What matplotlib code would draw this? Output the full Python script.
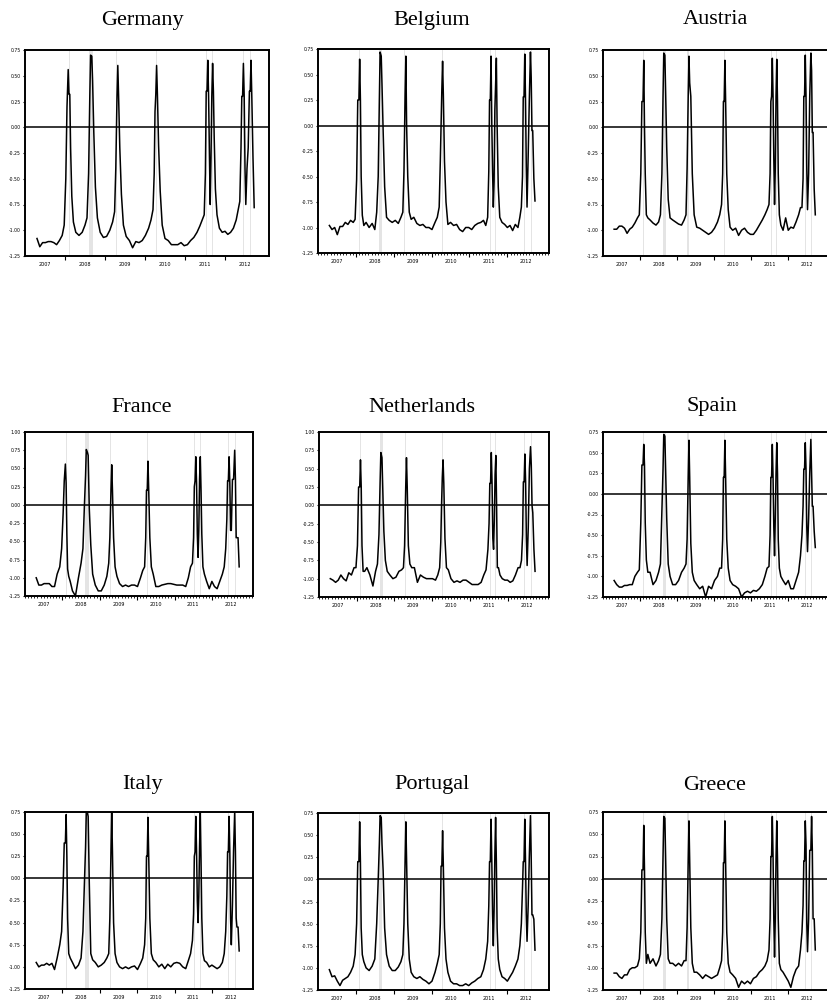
import matplotlib
matplotlib.use("Agg")
import matplotlib.pyplot as plt
from matplotlib.ticker import MultipleLocator, FormatStrFormatter

# sample dates (decimal years), dense around the spikes
dates = [
    2007.30, 2007.37, 2007.44, 2007.51, 2007.58, 2007.65, 2007.72, 2007.79, 2007.86, 2007.93,
    2007.98, 2008.02, 2008.05, 2008.08, 2008.10, 2008.12, 2008.14, 2008.17, 2008.21,
    2008.27, 2008.35, 2008.43, 2008.50,
    2008.55, 2008.59, 2008.62, 2008.64, 2008.67, 2008.69, 2008.72, 2008.76, 2008.81,
    2008.88, 2008.96, 2009.04, 2009.12, 2009.19,
    2009.24, 2009.27, 2009.30, 2009.32, 2009.34, 2009.37, 2009.41, 2009.46,
    2009.53, 2009.61, 2009.69, 2009.77, 2009.85, 2009.93, 2010.01, 2010.09, 2010.15,
    2010.20, 2010.23, 2010.25, 2010.27, 2010.29, 2010.31, 2010.34, 2010.38, 2010.43,
    2010.50, 2010.58, 2010.66, 2010.74, 2010.82, 2010.90, 2010.98, 2011.06, 2011.14, 2011.22, 2011.30, 2011.37, 2011.43,
    2011.48, 2011.51, 2011.53, 2011.55, 2011.57, 2011.59, 2011.61, 2011.63, 2011.65, 2011.67, 2011.69, 2011.71, 2011.73, 2011.76, 2011.80,
    2011.86, 2011.93, 2012.00, 2012.07, 2012.14, 2012.21, 2012.28, 2012.33,
    2012.37, 2012.40, 2012.42, 2012.44, 2012.46, 2012.48, 2012.50, 2012.52, 2012.55, 2012.58, 2012.61, 2012.63, 2012.65, 2012.67, 2012.70, 2012.73,
]

germany = [
    -1.08, -1.16, -1.12, -1.12, -1.11, -1.11, -1.12, -1.14, -1.10, -1.05,
    -0.95, -0.5, 0.2, 0.56, 0.32, 0.32, -0.2, -0.67, -0.92,
    -1.02, -1.05, -1.02, -0.95,
    -0.88, -0.45, 0.3, 0.7, 0.69, 0.45, -0.05, -0.58, -0.88,
    -1.02, -1.07, -1.06, -1.0, -0.92,
    -0.82, -0.4, 0.3, 0.6, 0.3, -0.2, -0.65, -0.95,
    -1.06, -1.1, -1.17, -1.11, -1.12, -1.1, -1.05, -0.98, -0.9,
    -0.8, -0.45, 0.15, 0.32, 0.6, 0.32, -0.18, -0.62, -0.95,
    -1.08, -1.1, -1.14, -1.14, -1.14, -1.12, -1.15, -1.14, -1.1, -1.07, -1.02, -0.96, -0.9,
    -0.85, -0.45, 0.35, 0.35, 0.65, 0.3, -0.25, -0.75, -0.3, 0.3, 0.62, 0.35, -0.1, -0.6, -0.85,
    -0.98, -1.02, -1.01, -1.04, -1.02, -0.98, -0.9, -0.8,
    -0.72, -0.2, 0.3, 0.3, 0.62, 0.3, -0.4, -0.75, -0.4, -0.2, 0.35, 0.35, 0.65, 0.3, -0.3, -0.78,
]
belgium = [
    -0.98, -1.02, -1.0, -1.07, -0.99, -0.99, -0.95, -0.97, -0.93, -0.95,
    -0.92, -0.53, 0.25, 0.25, 0.65, 0.25, -0.5, -0.88, -0.98,
    -0.95, -1.0, -0.96, -1.02,
    -0.85, -0.5, 0.25, 0.72, 0.68, 0.4, -0.05, -0.6, -0.9,
    -0.93, -0.95, -0.93, -0.96, -0.9,
    -0.85, -0.45, 0.3, 0.68, 0.0, -0.5, -0.85, -0.92,
    -0.9, -0.96, -0.98, -0.97, -1.0, -1.0, -1.02, -0.95, -0.9,
    -0.8, -0.35, 0.0, 0.35, 0.63, 0.3, -0.35, -0.75, -0.97,
    -0.95, -0.98, -0.97, -1.02, -1.04, -1.0, -1.0, -1.02, -0.98, -0.96, -0.95, -0.93, -0.98,
    -0.9, -0.45, 0.25, 0.25, 0.68, 0.0, -0.45, -0.8, -0.55, 0.15, 0.4, 0.66, 0.0, -0.6, -0.9,
    -0.95, -0.97, -1.0, -0.98, -1.03, -0.97, -1.0, -0.9,
    -0.8, -0.5, 0.28, 0.28, 0.7, 0.25, -0.4, -0.8, -0.3, 0.25, 0.72, 0.47, -0.05, -0.05, -0.52, -0.74,
]
austria = [
    -0.99, -0.99, -0.96, -0.96, -0.98, -1.03, -0.99, -0.97, -0.93, -0.88,
    -0.85, -0.45, 0.25, 0.25, 0.65, 0.0, -0.45, -0.85, -0.88,
    -0.9, -0.93, -0.95, -0.92,
    -0.85, -0.45, 0.3, 0.72, 0.7, 0.35, -0.2, -0.7, -0.88,
    -0.9, -0.92, -0.94, -0.95, -0.9,
    -0.85, -0.4, 0.3, 0.69, 0.43, 0.3, -0.45, -0.85,
    -0.97, -0.98, -1.0, -1.02, -1.04, -1.02, -0.98, -0.92, -0.85,
    -0.75, -0.45, 0.25, 0.25, 0.65, 0.25, -0.45, -0.8, -0.97,
    -1.0, -0.98, -1.05, -1.0, -0.98, -1.02, -1.04, -1.04, -1.0, -0.95, -0.9, -0.85, -0.8,
    -0.75, -0.45, 0.25, 0.3, 0.67, 0.3, -0.3, -0.75, -0.4, 0.3, 0.66, 0.25, -0.45, -0.85, -0.95,
    -1.0, -0.88, -1.0, -0.97, -0.98, -0.92, -0.85, -0.78,
    -0.78, -0.5, 0.3, 0.3, 0.7, 0.3, -0.4, -0.8, -0.45, 0.3, 0.72, 0.55, -0.05, -0.05, -0.6, -0.85,
]
france = [
    -1.0, -1.1, -1.1, -1.08, -1.08, -1.08, -1.12, -1.12, -0.95, -0.85,
    -0.6, -0.12, 0.33, 0.56, 0.3, -0.4, -0.88, -0.98, -1.05,
    -1.18, -1.25, -1.0, -0.8,
    -0.6, 0.0, 0.4, 0.76, 0.72, 0.68, -0.05, -0.55, -0.95,
    -1.1, -1.18, -1.18, -1.1, -0.98,
    -0.8, -0.45, 0.2, 0.55, 0.2, -0.45, -0.85, -0.98,
    -1.08, -1.12, -1.1, -1.12, -1.1, -1.1, -1.12, -1.0, -0.9,
    -0.85, -0.45, 0.2, 0.2, 0.6, 0.2, -0.45, -0.85, -0.95,
    -1.12, -1.12, -1.1, -1.09, -1.08, -1.08, -1.09, -1.1, -1.1, -1.1, -1.12, -1.0, -0.85,
    -0.8, -0.45, 0.25, 0.33, 0.66, 0.3, -0.4, -0.72, -0.35, 0.35, 0.66, 0.2, -0.4, -0.85, -0.95,
    -1.05, -1.15, -1.05, -1.12, -1.15, -1.05, -0.95, -0.85,
    -0.6, -0.2, 0.33, 0.33, 0.66, 0.3, -0.35, -0.35, 0.35, 0.35, 0.75, 0.35, -0.45, -0.45, -0.45, -0.85,
]
netherlands = [
    -1.0, -1.02, -1.05, -1.02, -0.95, -1.0, -1.03, -0.92, -0.95, -0.85,
    -0.85, -0.55, 0.25, 0.25, 0.62, 0.25, -0.55, -0.9, -0.9,
    -0.85, -0.95, -1.1, -0.9,
    -0.8, -0.4, 0.3, 0.72, 0.65, 0.25, -0.35, -0.75, -0.9,
    -0.95, -1.0, -0.98, -0.9, -0.88,
    -0.85, -0.55, 0.25, 0.65, 0.25, -0.55, -0.8, -0.85,
    -0.85, -1.05, -0.95, -0.98, -1.0, -1.0, -1.0, -1.02, -0.95,
    -0.85, -0.5, 0.0, 0.38, 0.62, 0.3, -0.45, -0.85, -0.88,
    -1.0, -1.05, -1.03, -1.05, -1.02, -1.02, -1.05, -1.08, -1.08, -1.08, -1.05, -0.95, -0.88,
    -0.6, -0.25, 0.3, 0.3, 0.72, 0.3, -0.45, -0.6, -0.2, 0.42, 0.68, 0.0, -0.85, -0.85, -0.95,
    -1.0, -1.02, -1.02, -1.05, -1.03, -0.95, -0.85, -0.85,
    -0.75, -0.4, 0.32, 0.32, 0.7, 0.32, -0.45, -0.82, -0.3, 0.5, 0.8, 0.55, 0.0, -0.1, -0.6, -0.9,
]
spain = [
    -1.05, -1.1, -1.13, -1.13, -1.11, -1.11, -1.1, -1.1, -1.0, -0.95,
    -0.92, -0.35, 0.35, 0.35, 0.6, 0.35, -0.35, -0.8, -0.95,
    -0.95, -1.1, -1.05, -0.95,
    -0.85, -0.2, 0.3, 0.72, 0.7, 0.3, -0.3, -0.85, -1.0,
    -1.1, -1.1, -1.05, -0.95, -0.9,
    -0.85, -0.55, 0.2, 0.65, 0.2, -0.6, -0.95, -1.05,
    -1.1, -1.15, -1.12, -1.25, -1.12, -1.15, -1.05, -1.0, -0.9,
    -0.9, -0.55, 0.2, 0.2, 0.65, 0.2, -0.55, -0.9, -1.05,
    -1.1, -1.12, -1.15, -1.25, -1.2, -1.18, -1.2, -1.17, -1.18, -1.15, -1.1, -1.0, -0.9,
    -0.88, -0.5, 0.2, 0.2, 0.6, 0.2, -0.4, -0.75, -0.3, 0.25, 0.62, 0.25, -0.55, -0.9, -1.0,
    -1.05, -1.1, -1.05, -1.15, -1.15, -1.05, -0.95, -0.75,
    -0.5, -0.15, 0.3, 0.3, 0.62, 0.3, -0.4, -0.7, -0.3, 0.25, 0.66, 0.25, -0.15, -0.15, -0.45, -0.65,
]
italy = [
    -0.95, -1.0, -0.98, -0.98, -0.96, -0.98, -0.96, -1.03, -0.9, -0.75,
    -0.6, -0.1, 0.4, 0.4, 0.72, 0.25, -0.45, -0.85, -0.9,
    -0.95, -1.02, -0.98, -0.9,
    -0.6, -0.05, 0.35, 0.75, 0.74, 0.7, -0.05, -0.85, -0.92,
    -0.95, -1.0, -0.98, -0.95, -0.9,
    -0.85, -0.45, 0.3, 0.75, 0.3, -0.5, -0.85, -0.95,
    -1.0, -1.02, -1.0, -1.02, -1.0, -0.99, -1.03, -0.96, -0.9,
    -0.75, -0.45, 0.25, 0.25, 0.69, 0.25, -0.45, -0.85, -0.92,
    -0.95, -1.0, -0.97, -1.02, -0.97, -1.0, -0.96, -0.95, -0.96, -1.0, -1.02, -0.93, -0.85,
    -0.7, -0.4, 0.25, 0.3, 0.7, 0.3, -0.25, -0.5, -0.2, 0.35, 0.75, 0.2, -0.45, -0.85, -0.93,
    -0.95, -1.0, -0.98, -1.0, -1.02, -1.0, -0.95, -0.85,
    -0.6, -0.2, 0.3, 0.3, 0.7, 0.3, -0.45, -0.75, -0.3, 0.32, 0.75, 0.3, -0.45, -0.55, -0.55, -0.82,
]
portugal = [
    -1.02, -1.1, -1.09, -1.15, -1.2, -1.14, -1.12, -1.1, -1.05, -0.98,
    -0.85, -0.5, 0.2, 0.2, 0.65, 0.2, -0.55, -0.85, -0.93,
    -1.0, -1.03, -0.98, -0.9,
    -0.5, 0.0, 0.4, 0.72, 0.7, 0.4, 0.1, -0.55, -0.85,
    -0.98, -1.03, -1.03, -0.99, -0.93,
    -0.85, -0.5, 0.2, 0.65, 0.2, -0.5, -0.9, -1.05,
    -1.1, -1.12, -1.1, -1.13, -1.15, -1.18, -1.15, -1.05, -0.95,
    -0.85, -0.5, 0.15, 0.15, 0.55, 0.15, -0.55, -0.9, -1.05,
    -1.15, -1.18, -1.18, -1.2, -1.2, -1.18, -1.2, -1.17, -1.15, -1.12, -1.1, -1.02, -0.9,
    -0.7, -0.3, 0.2, 0.2, 0.68, 0.2, -0.4, -0.75, -0.35, 0.27, 0.7, 0.2, -0.55, -0.9, -1.02,
    -1.1, -1.12, -1.15, -1.1, -1.05, -0.98, -0.9, -0.75,
    -0.5, -0.1, 0.2, 0.2, 0.68, 0.2, -0.4, -0.7, -0.3, 0.25, 0.72, 0.25, -0.4, -0.4, -0.45, -0.8,
]
greece = [
    -1.06, -1.06, -1.1, -1.12, -1.08, -1.08, -1.02, -1.0, -1.0, -0.98,
    -0.9, -0.6, 0.1, 0.1, 0.6, 0.1, -0.6, -0.95, -0.85,
    -0.95, -0.9, -0.98, -0.92,
    -0.85, -0.45, 0.25, 0.7, 0.68, 0.25, -0.45, -0.9, -0.95,
    -0.95, -0.98, -0.95, -0.98, -0.92,
    -0.92, -0.55, 0.2, 0.65, 0.2, -0.55, -0.95, -1.05,
    -1.05, -1.08, -1.12, -1.08, -1.1, -1.12, -1.1, -1.08, -1.0,
    -0.92, -0.6, 0.18, 0.18, 0.65, 0.18, -0.6, -0.95, -1.05,
    -1.08, -1.12, -1.22, -1.15, -1.18, -1.15, -1.18, -1.12, -1.1, -1.05, -1.02, -0.98, -0.92,
    -0.8, -0.45, 0.25, 0.25, 0.7, 0.25, -0.45, -0.88, -0.45, 0.22, 0.65, 0.22, -0.45, -0.95, -1.02,
    -1.05, -1.1, -1.15, -1.22, -1.1, -1.02, -0.98, -0.8,
    -0.6, -0.3, 0.2, 0.2, 0.65, 0.38, -0.5, -0.82, -0.45, 0.32, 0.32, 0.7, 0.32, -0.45, -0.45, -0.8,
]

# grey shaded periods
bands = [(2008.09, 2008.12), (2008.61, 2008.70), (2009.27, 2009.31), (2010.27, 2010.30),
         (2011.53, 2011.56), (2011.67, 2011.70), (2012.44, 2012.47), (2012.62, 2012.65)]

years = [2007, 2008, 2009, 2010, 2011, 2012]

W, H = 828, 1002
fig = plt.figure(figsize=(W / 100, H / 100), dpi=100)

# name, series, ymax, monthly minor ticks, axes box in px (l, t, r, b), title centre in px
panels = [
    ("Germany", germany, 0.75, False, (25, 50, 269, 256), (142, 20)),
    ("Belgium", belgium, 0.75, True, (318, 49, 549, 253), (432, 20)),
    ("Austria", austria, 0.75, False, (603, 50, 829, 256), (715, 20)),
    ("France", france, 1.0, True, (25, 432, 253, 596), (142, 407)),
    ("Netherlands", netherlands, 1.0, True, (319, 432, 549, 597), (422, 407)),
    ("Spain", spain, 0.75, True, (603, 432, 829, 597), (712, 407)),
    ("Italy", italy, 0.75, False, (25, 812, 253, 989), (143, 785)),
    ("Portugal", portugal, 0.75, False, (318, 813, 549, 990), (432, 785)),
    ("Greece", greece, 0.75, False, (603, 812, 829, 990), (715, 785)),
]

for name, series, ymax, monthly, (l, t, r, b), (tx, ty) in panels:
    ax = fig.add_axes([l / W, 1 - b / H, (r - l) / W, (b - t) / H])
    for x0, x1 in bands:
        ax.axvspan(x0, x1, color="#e4e4e4", lw=0, zorder=0)
    ax.axhline(0, color="black", lw=1.1, zorder=1)
    ax.plot(dates, series, color="black", lw=1.1, zorder=2)

    ax.set_xlim(2007.0, 2013.1)
    ax.set_ylim(-1.25, ymax)
    ax.yaxis.set_major_locator(MultipleLocator(0.25))
    ax.yaxis.set_major_formatter(FormatStrFormatter("%.2f"))
    ax.tick_params(axis="y", direction="out", length=1.5, width=0.8, labelsize=3.3, pad=1.5)

    ax.set_xticks(years[1:])
    ax.set_xticklabels([])
    ax.tick_params(axis="x", which="major", direction="out", length=3, width=0.8)
    if monthly:
        ax.xaxis.set_minor_locator(MultipleLocator(1 / 12))
        ax.tick_params(axis="x", which="minor", direction="out", length=1.5, width=0.6)

    sec = ax.secondary_xaxis("bottom")
    sec.set_xticks([y + 0.5 for y in years], labels=[str(y) for y in years])
    sec.tick_params(length=0, labelsize=3.5, pad=4.5)
    sec.spines["bottom"].set_visible(False)

    for s in ax.spines.values():
        s.set_linewidth(1.4)

    fig.text(tx / W, 1 - ty / H, name, ha="center", va="center",
             family="Liberation Serif", fontsize=16)

fig.savefig("out.png", dpi=100)
